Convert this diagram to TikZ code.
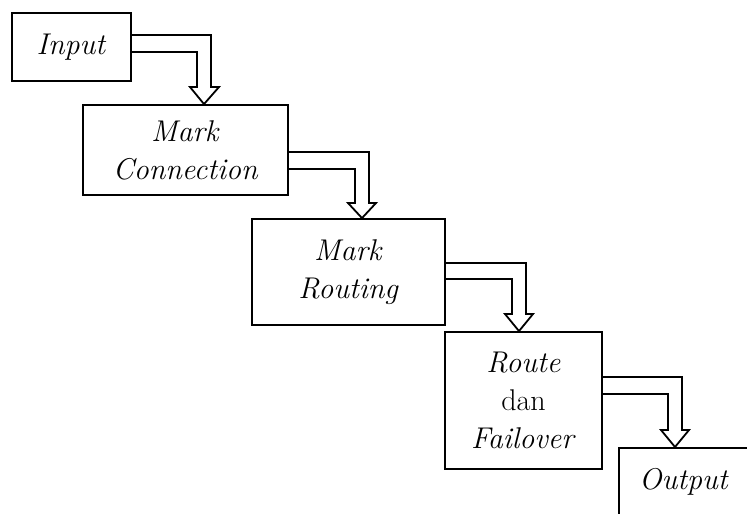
\documentclass[tikz,border=0pt]{standalone}
\begin{document}
\begin{tikzpicture}[x=1pt,y=-1pt,
  stage/.style={draw,line width=1.8pt,inner sep=0pt,align=center,
    font=\fontsize{30}{38}\selectfont},
  shaft/.style={draw,line width=1.8pt,line join=miter}]
\useasboundingbox (0,0) rectangle (747,514);
\clip (0,0) rectangle (747,514);

% process stages
\node[stage,minimum width=119pt,minimum height=68pt] (in) at (71.5,47) {\textit{Input}};
\node[stage,minimum width=205pt,minimum height=90pt] (mc) at (185.5,150) {\textit{Mark}\\\textit{Connection}};
\node[stage,minimum width=193pt,minimum height=106pt] (mr) at (348.5,272) {\textit{Mark}\\\textit{Routing}};
\node[stage,minimum width=157pt,minimum height=137pt] (rf) at (523.5,400.5) {\textit{Route}\\dan\\\textit{Failover}};
\node[stage,minimum width=130pt,minimum height=68pt,anchor=north west] (out) at (618,447) {\textit{Output}};

% hollow elbow arrows between the stages
\draw[shaft] (in.east |- 0,35) -- (211,35) -- (211,87) -- (219,87)
  -- (mc.north -| 204,0) -- (190,87) -- (197,87) -- (197,52) -- (in.east |- 0,52);
\draw[shaft] (mc.east |- 0,152) -- (369,152) -- (369,203) -- (376,203)
  -- (mr.north -| 362,0) -- (348,203) -- (355,203) -- (355,169) -- (mc.east |- 0,169);
\draw[shaft] (mr.east |- 0,263) -- (526,263) -- (526,314) -- (533,314)
  -- (rf.north -| 519,0) -- (505,314) -- (512,314) -- (512,279) -- (mr.east |- 0,279);
\draw[shaft] (rf.east |- 0,377) -- (682,377) -- (682,430) -- (689,430)
  -- (out.north -| 675,0) -- (661,430) -- (668,430) -- (668,394) -- (rf.east |- 0,394);
\end{tikzpicture}
\end{document}
